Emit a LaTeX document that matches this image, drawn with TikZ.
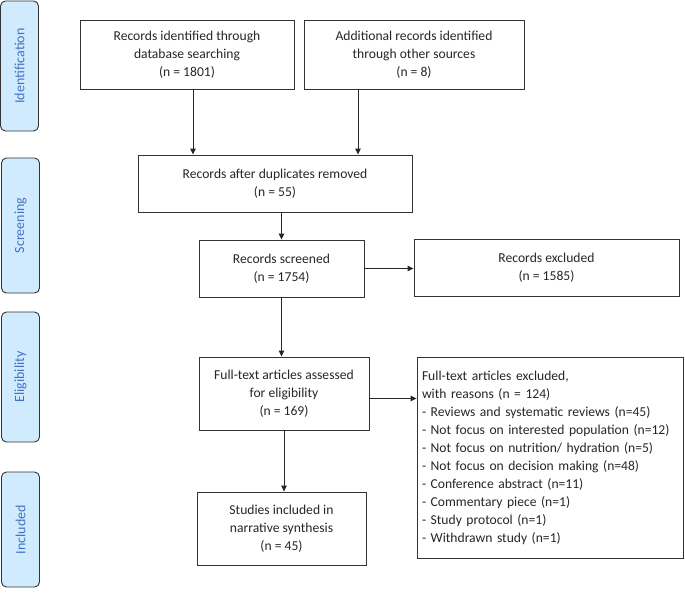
\documentclass[tikz,border=0pt]{standalone}
\usepackage{fontspec}
\setmainfont{Carlito}
\usetikzlibrary{arrows.meta}
\definecolor{phasefill}{RGB}{207,235,253}
\definecolor{phasetext}{RGB}{70,114,196}
\begin{document}
\begin{tikzpicture}
  [x=1pt,y=-1pt,
   every node/.style={draw=black!80,line width=0.9pt,align=center,inner sep=2pt,
     font=\fontsize{13.6}{18}\selectfont,text=black!85},
   phase/.style={fill=phasefill,rounded corners=5pt,rotate=90,minimum height=38,
     text=phasetext,font=\fontsize{14}{16}\selectfont},
   flow/.style={-{Triangle[length=6pt,width=5.5pt]},line width=0.9pt,black!85}]
  \useasboundingbox (0,0) rectangle (685,592);

  \node[phase,minimum width=130] (ident) at (19.5,66) {Identification};
  \node[phase,minimum width=135] (screen) at (20.5,225.5) {Screening};
  \node[phase,minimum width=130] (elig) at (20.5,377) {Eligibility};
  \node[phase,minimum width=115] (incl) at (20.5,529.5) {Included};

  \node[minimum width=214,minimum height=69] (db) at (187,54.5)
    {Records identified through\\database searching\\(n = 1801)};
  \node[minimum width=220,minimum height=69] (other) at (414,54.5)
    {Additional records identified\\through other sources\\(n = 8)};
  \node[minimum width=274,minimum height=57] (dup) at (275,183.5)
    {Records after duplicates removed\\(n = 55)};
  \node[minimum width=165,minimum height=57] (scr) at (281.5,268.5)
    {Records screened\\(n = 1754)};
  \node[minimum width=265,minimum height=57] (excl) at (546.5,267.5)
    {Records excluded\\(n = 1585)};
  \node[minimum width=170,minimum height=73] (full) at (284,393.5)
    {Full-text articles assessed\\for eligibility\\(n = 169)};
  \node[minimum width=266,minimum height=201,align=left,text width=256] (reasons) at (550,457.5)
    {Full-text articles excluded,\\with reasons (n = 124)\\
     - Reviews and systematic reviews (n=45)\\
     - Not focus on interested population (n=12)\\
     - Not focus on nutrition/ hydration (n=5)\\
     - Not focus on decision making (n=48)\\
     - Conference abstract (n=11)\\
     - Commentary piece (n=1)\\
     - Study protocol (n=1)\\
     - Withdrawn study (n=1)\\[22pt]};
  \node[minimum width=169,minimum height=73] (studies) at (281.5,528.5)
    {Studies included in\\narrative synthesis\\(n = 45)};

  \draw[flow] ([xshift=6]db.south) -- ([xshift=6]db.south |- dup.north);
  \draw[flow] ([xshift=-56]other.south) -- ([xshift=-56]other.south |- dup.north);
  \draw[flow] (dup.south -| scr.north) -- (scr.north);
  \draw[flow] (scr.east) -- (scr.east -| excl.west);
  \draw[flow] (scr.south) -- (scr.south |- full.north);
  \draw[flow] ([yshift=-5]full.east) -- ([yshift=-5]full.east -| reasons.west);
  \draw[flow] (full.south) -- (full.south |- studies.north);

\end{tikzpicture}
\end{document}
